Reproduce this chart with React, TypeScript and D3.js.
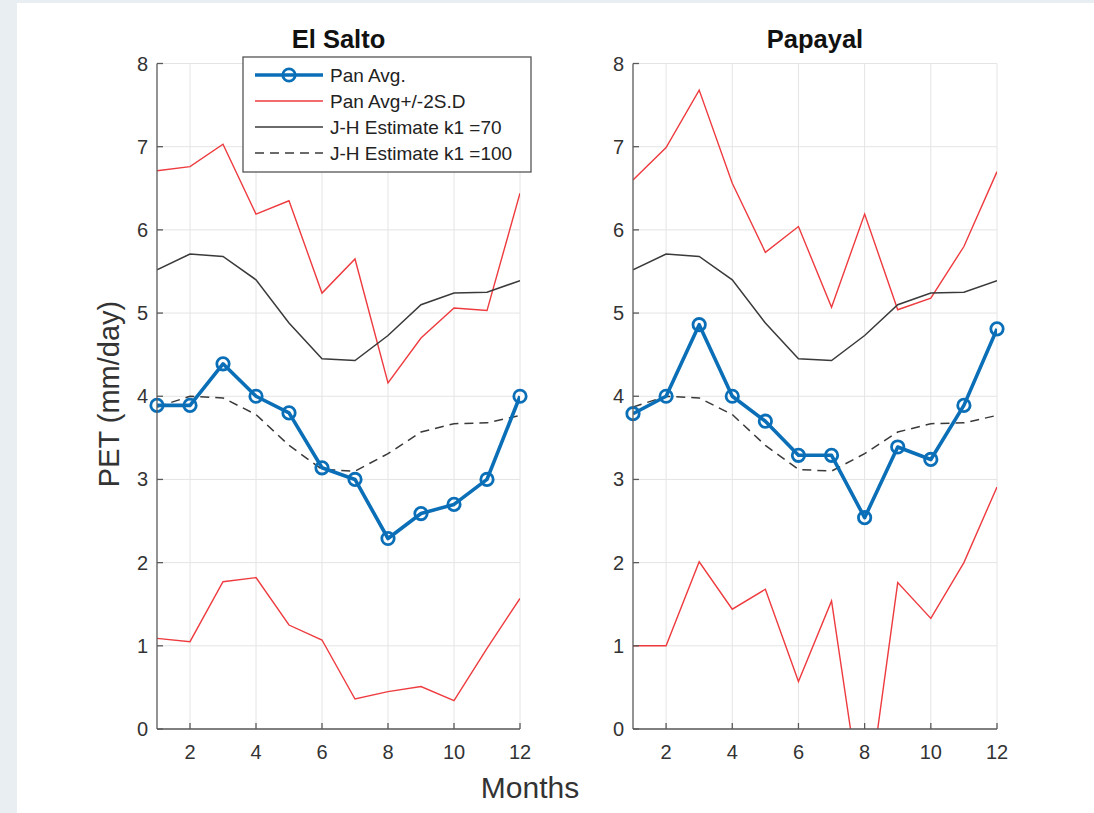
import React from "react";
import * as d3 from "d3";

// months on the x axis
const months = [1, 2, 3, 4, 5, 6, 7, 8, 9, 10, 11, 12];
const xTicks = [2, 4, 6, 8, 10, 12];
const yTicks = [0, 1, 2, 3, 4, 5, 6, 7, 8];

// El Salto
const saltoPanAvg = [3.89, 3.89, 4.39, 4.0, 3.8, 3.14, 3.0, 2.29, 2.59, 2.7, 3.0, 4.0];
const saltoUpper = [6.71, 6.76, 7.03, 6.19, 6.35, 5.24, 5.65, 4.16, 4.7, 5.06, 5.03, 6.44];
const saltoLower = [1.09, 1.05, 1.77, 1.82, 1.25, 1.07, 0.36, 0.45, 0.51, 0.34, 0.97, 1.57];

// Papayal
const papayalPanAvg = [3.79, 4.0, 4.86, 4.0, 3.7, 3.29, 3.29, 2.54, 3.39, 3.24, 3.89, 4.81];
const papayalUpper = [6.6, 6.99, 7.68, 6.56, 5.73, 6.04, 5.07, 6.19, 5.04, 5.18, 5.8, 6.7];
const papayalLower = [1.0, 1.0, 2.01, 1.44, 1.68, 0.57, 1.54, -1.15, 1.76, 1.33, 2.0, 2.91];

// Jensen-Haise estimates (same for both stations)
const jhK70 = [5.52, 5.71, 5.68, 5.4, 4.88, 4.45, 4.43, 4.73, 5.1, 5.24, 5.25, 5.39];
const jhK100 = [3.87, 4.0, 3.98, 3.78, 3.41, 3.12, 3.1, 3.31, 3.57, 3.67, 3.68, 3.77];

const legendLabels = ["Pan Avg.", "Pan Avg+/-2S.D", "J-H Estimate k1 =70", "J-H Estimate k1 =100"];

const BLUE = "#0b6fb8";
const RED = "#ee3b3f";
const DARK = "#3a3a3a";
const AXIS = "#5a5a5a";
const GRID = "#e4e4e4";
const FONT = "'Liberation Sans', Arial, Helvetica, sans-serif";

const top = 63.5;
const bottom = 729;

const panels = [
  { id: "salto", title: "El Salto", left: 157, right: 520, avg: saltoPanAvg, up: saltoUpper, low: saltoLower, legend: true },
  { id: "papayal", title: "Papayal", left: 633, right: 997, avg: papayalPanAvg, up: papayalUpper, low: papayalLower, legend: false },
];

const Panel = ({ p }: { p: (typeof panels)[number] }) => {
  const x = d3.scaleLinear().domain([1, 12]).range([p.left, p.right]);
  const y = d3.scaleLinear().domain([0, 8]).range([bottom, top]);
  const line = d3
    .line<number>()
    .x((_, i) => x(months[i]))
    .y((d) => y(d));

  return (
    <g>
      <defs>
        <clipPath id={`clip-${p.id}`}>
          <rect x={p.left} y={top} width={p.right - p.left} height={bottom - top} />
        </clipPath>
      </defs>

      {/* grid */}
      {xTicks.map((t) => (
        <line key={`gx${t}`} x1={x(t)} x2={x(t)} y1={top} y2={bottom} stroke={GRID} strokeWidth={1} />
      ))}
      {yTicks.map((t) => (
        <line key={`gy${t}`} x1={p.left} x2={p.right} y1={y(t)} y2={y(t)} stroke={GRID} strokeWidth={1} />
      ))}

      {/* series */}
      <g clipPath={`url(#clip-${p.id})`} fill="none">
        <path d={line(p.up) || ""} stroke={RED} strokeWidth={1.4} />
        <path d={line(p.low) || ""} stroke={RED} strokeWidth={1.4} />
        <path d={line(jhK70) || ""} stroke={DARK} strokeWidth={1.5} />
        <path d={line(jhK100) || ""} stroke={DARK} strokeWidth={1.5} strokeDasharray="9,6" />
        <path d={line(p.avg) || ""} stroke={BLUE} strokeWidth={3.6} strokeLinejoin="round" />
      </g>
      {p.avg.map((v, i) => (
        <circle key={i} cx={x(months[i])} cy={y(v)} r={6.2} fill="none" stroke={BLUE} strokeWidth={2.8} />
      ))}

      {/* axes */}
      <line x1={p.left} x2={p.left} y1={top} y2={bottom} stroke={AXIS} strokeWidth={1.3} />
      <line x1={p.left} x2={p.right} y1={bottom} y2={bottom} stroke={AXIS} strokeWidth={1.3} />
      {xTicks.map((t) => (
        <g key={`tx${t}`}>
          <line x1={x(t)} x2={x(t)} y1={bottom} y2={bottom - 6} stroke={AXIS} strokeWidth={1.3} />
          <text x={x(t)} y={752} textAnchor="middle" dominantBaseline="central" fontSize={20} fill="#333">
            {t}
          </text>
        </g>
      ))}
      {yTicks.map((t) => (
        <g key={`ty${t}`}>
          <line x1={p.left} x2={p.left + 6} y1={y(t)} y2={y(t)} stroke={AXIS} strokeWidth={1.3} />
          <text x={p.left - 9} y={y(t)} textAnchor="end" dominantBaseline="central" fontSize={20} fill="#333">
            {t}
          </text>
        </g>
      ))}

      <text x={(p.left + p.right) / 2} y={48} textAnchor="middle" fontSize={25.5} fontWeight="bold" fill="#111">
        {p.title}
      </text>

      {p.legend && (
        <g>
          <rect x={243} y={57} width={288} height={115} fill="#fff" stroke="#555" strokeWidth={1.3} />
          {legendLabels.map((lab, i) => {
            const ly = 75 + i * 26;
            return (
              <g key={lab}>
                <line
                  x1={255}
                  x2={323}
                  y1={ly}
                  y2={ly}
                  stroke={i === 0 ? BLUE : i === 1 ? RED : DARK}
                  strokeWidth={i === 0 ? 3.6 : i === 1 ? 1.4 : 1.5}
                  strokeDasharray={i === 3 ? "9,6" : undefined}
                />
                {i === 0 && <circle cx={289} cy={ly} r={6.2} fill="none" stroke={BLUE} strokeWidth={2.8} />}
                <text x={330} y={ly} dominantBaseline="central" fontSize={19} fill="#222">
                  {lab}
                </text>
              </g>
            );
          })}
        </g>
      )}
    </g>
  );
};

export default function App() {
  return (
    <svg
      width={1094}
      height={813}
      style={{ position: "absolute", left: 0, top: 0, fontFamily: FONT }}
    >
      <rect x={0} y={0} width={1094} height={813} fill="#e9eef2" />
      <rect x={17} y={3} width={1077} height={810} fill="#fff" />
      {panels.map((p) => (
        <Panel key={p.id} p={p} />
      ))}
      <text x={530} y={798} textAnchor="middle" fontSize={30} fill="#333">
        Months
      </text>
      <text transform="translate(119,394) rotate(-90)" textAnchor="middle" fontSize={29} fill="#333">
        PET (mm/day)
      </text>
    </svg>
  );
}
